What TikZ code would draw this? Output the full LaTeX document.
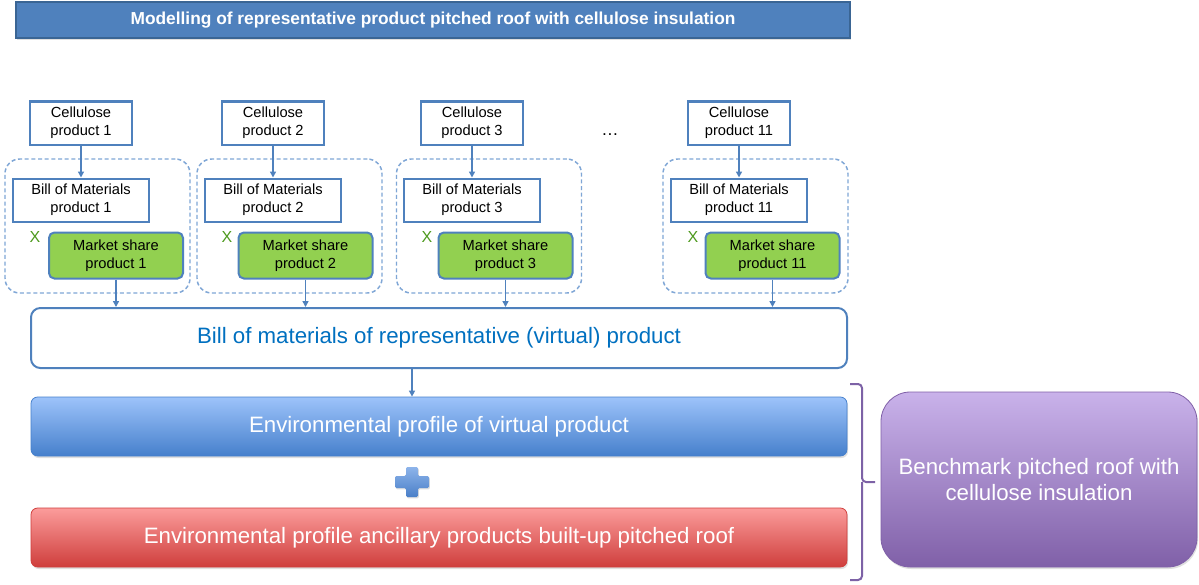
\documentclass[tikz,border=0pt]{standalone}
\usepackage{fontspec}
\setmainfont{Liberation Sans}
\usetikzlibrary{arrows.meta,shadows}

\definecolor{boxblue}{HTML}{4F81BD}
\definecolor{titleedge}{HTML}{3A6594}
\definecolor{groupblue}{HTML}{7FA6D6}
\definecolor{sharegreen}{HTML}{92D050}
\definecolor{xgreen}{HTML}{4E9A1E}
\definecolor{textblue}{HTML}{0070C0}
\definecolor{envtop}{HTML}{9DC3FA}
\definecolor{envbot}{HTML}{4680CC}
\definecolor{anctop}{HTML}{FB9C9B}
\definecolor{ancbot}{HTML}{CF3E3C}
\definecolor{benchtop}{HTML}{C9B2EA}
\definecolor{benchbot}{HTML}{8060A8}
\definecolor{bracepurple}{HTML}{7D62A6}
\definecolor{plustop}{HTML}{8DB4EA}
\definecolor{plusbot}{HTML}{4A7FC8}

\tikzset{every picture/.style={line width=0.75pt}}
\tikzset{
  smallbox/.style={draw=boxblue, line width=1.5pt, fill=white, align=center, inner sep=0pt, font=\fontsize{11}{13.5}\selectfont},
  cellbox/.style={smallbox, minimum width=76.5pt, minimum height=32.25pt},
  bombox/.style={smallbox, minimum width=102pt, minimum height=32.25pt},
  sharebox/.style={smallbox, fill=sharegreen, rounded corners=4pt, minimum width=100.5pt, minimum height=34.5pt},
  groupbox/.style={draw=groupblue, line width=1.1pt, dash pattern=on 3pt off 2pt, rounded corners=11pt, minimum width=138.75pt, minimum height=100.5pt},
  timesmark/.style={text=xgreen, font=\fontsize{12}{13}\selectfont, inner sep=0pt},
  flow/.style={draw=boxblue, line width=1.4pt, -{Triangle[length=4.5pt,width=4.5pt]}},
  bigbar/.style={rounded corners=5pt, minimum width=612pt, text=white, font=\fontsize{16.7}{20}\selectfont, drop shadow={opacity=0.25, shadow xshift=0.8pt, shadow yshift=-1.5pt}},
}

\begin{document}
\begin{tikzpicture}[x=0.75pt,y=0.75pt,yscale=-1,xscale=1]
\fill[white] (0,0) rectangle (1199,585);
\useasboundingbox (0,0) rectangle (1199,585);

% Title bar
\node (title) at (433,20) [fill=boxblue, draw=titleedge, line width=1pt, minimum width=625.5pt, minimum height=27pt, text=white, font=\bfseries\fontsize{13}{15}\selectfont, drop shadow={opacity=0.25, shadow xshift=0.8pt, shadow yshift=-1.2pt}] {Modelling of representative product pitched roof with cellulose insulation};

% Dashed groups
\node (g1) at (97.5,226) [groupbox] {};
\node (g2) at (289.5,226) [groupbox] {};
\node (g3) at (489,226) [groupbox] {};
\node (g11) at (755.5,226) [groupbox] {};

% Cellulose products
\node (c1) at (81,123) [cellbox] {Cellulose\\product 1};
\node (c2) at (273,123) [cellbox] {Cellulose\\product 2};
\node (c3) at (472,123) [cellbox] {Cellulose\\product 3};
\node (c11) at (739,123) [cellbox] {Cellulose\\product 11};
\node (more) at (610,135) [font=\fontsize{13}{13}\selectfont] {\dots};

% Bills of materials
\node (b1) at (81,200) [bombox] {Bill of Materials\\product 1};
\node (b2) at (273,200) [bombox] {Bill of Materials\\product 2};
\node (b3) at (472,200) [bombox] {Bill of Materials\\product 3};
\node (b11) at (739,200) [bombox] {Bill of Materials\\product 11};

% Market shares
\node (m1) at (116,255.5) [sharebox] {Market share\\product 1};
\node (m2) at (305.5,255.5) [sharebox] {Market share\\product 2};
\node (m3) at (505.5,255.5) [sharebox] {Market share\\product 3};
\node (m11) at (772.5,255.5) [sharebox] {Market share\\product 11};

% Multiplication marks
\node (x1) at (35,237) [timesmark] {X};
\node (x2) at (227,237) [timesmark] {X};
\node (x3) at (427,237) [timesmark] {X};
\node (x11) at (693,237) [timesmark] {X};

% Bill of materials of virtual product
\node (vbom) at (439,338) [draw=boxblue, line width=1.5pt, fill=white, rounded corners=7pt, minimum width=612pt, minimum height=45pt, text=textblue, font=\fontsize{16.7}{20}\selectfont] {Bill of materials of representative (virtual) product};

% Environmental profiles
\node (env) at (439,426.5) [bigbar, top color=envtop, bottom color=envbot, draw=envbot, line width=0.6pt, minimum height=44.25pt] {Environmental profile of virtual product};
\node (anc) at (439,537.5) [bigbar, top color=anctop, bottom color=ancbot, draw=ancbot, line width=0.6pt, minimum height=44.25pt] {Environmental profile ancillary products built-up pitched roof};

%Shape: Plus
\coordinate (sum) at (412,482);
\path[top color=plustop, bottom color=plusbot, rounded corners=1pt, drop shadow={opacity=0.25, shadow xshift=0.6pt, shadow yshift=-1pt}] (406,467) -- (418,467) -- (418,476) -- (429,476) -- (429,488) -- (418,488) -- (418,497) -- (406,497) -- (406,488) -- (395,488) -- (395,476) -- (406,476) -- cycle;

%Shape: Brace
\draw[bracepurple, line width=1.5pt, rounded corners=3pt] (850,384) -- (862,384) -- (862,482) -- (875,482);
\draw[bracepurple, line width=1.5pt, rounded corners=3pt] (862,482) -- (862,580) -- (850,580);

% Benchmark
\node (bench) at (1039,479.5) [rounded corners=22pt, top color=benchtop, bottom color=benchbot, draw=benchbot, line width=0.6pt, minimum width=237pt, minimum height=131.25pt, text=white, align=center, font=\fontsize{16.7}{20}\selectfont, drop shadow={opacity=0.25, shadow xshift=0.8pt, shadow yshift=-1.5pt}] {Benchmark pitched roof with\\cellulose insulation};

% Connectors
\draw[flow] (c1) -- (b1);
\draw[flow] (c2) -- (b2);
\draw[flow] (c3) -- (b3);
\draw[flow] (c11) -- (b11);
\draw[flow] (m1) -- (m1 |- vbom.north);
\draw[flow] (m2) -- (m2 |- vbom.north);
\draw[flow] (m3) -- (m3 |- vbom.north);
\draw[flow] (m11) -- (m11 |- vbom.north);
\draw[flow] (vbom.south -| sum) -- (env.north -| sum);

\end{tikzpicture}
\end{document}
